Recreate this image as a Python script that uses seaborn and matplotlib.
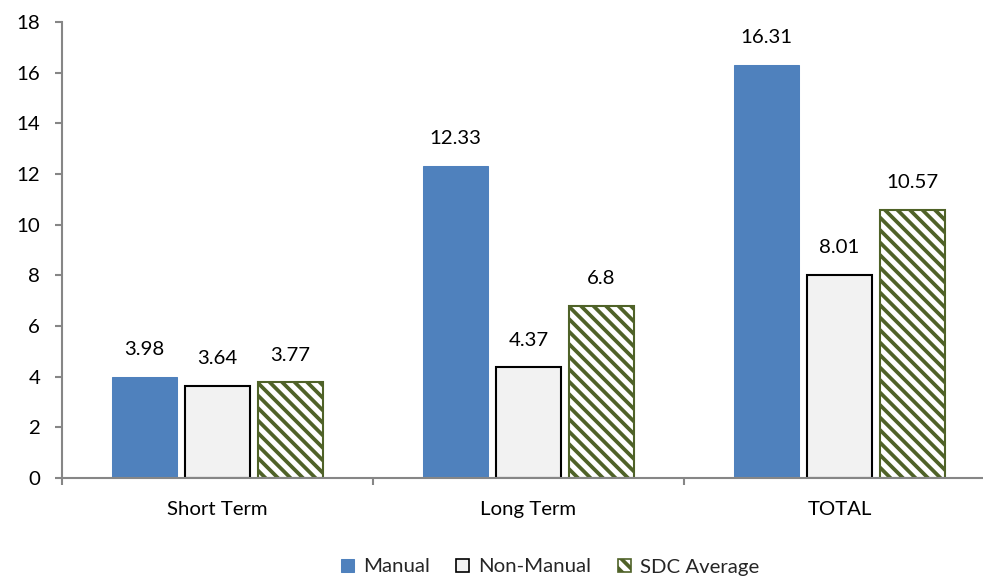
import matplotlib
matplotlib.use("Agg")
import matplotlib.pyplot as plt
from matplotlib.patches import Patch
import pandas as pd
import seaborn as sns

# Chart data
categories = ["Short Term", "Long Term", "TOTAL"]
series_names = ["Manual", "Non-Manual", "SDC Average"]
manual = [3.98, 12.33, 16.31]
non_manual = [3.64, 4.37, 8.01]
sdc_average = [3.77, 6.8, 10.57]
y_ticks = [0, 2, 4, 6, 8, 10, 12, 14, 16, 18]

sns.set_theme(style="white")
plt.rcParams["font.family"] = ["Lato", "DejaVu Sans"]
plt.rcParams["hatch.linewidth"] = 1.8

FS = 9.8
AXIS_GREY = "#868686"
BLUE = "#4F81BD"
LIGHT = "#F2F2F2"
GREEN = "#4F6228"
DIAG = chr(92) * 4  # dense backward-diagonal hatch

values = [manual, non_manual, sdc_average]
df = pd.DataFrame(
    [(c, s, v) for s, vals in zip(series_names, values) for c, v in zip(categories, vals)],
    columns=["category", "series", "value"],
)

fig = plt.figure(figsize=(983 / 150, 577 / 150), dpi=150)
ax = fig.add_axes([62 / 983, 1 - 478 / 577, 933 / 983, (478 - 22) / 577])

sns.barplot(
    data=df, x="category", y="value", hue="series",
    order=categories, hue_order=series_names,
    palette=[BLUE, LIGHT, "white"], width=0.704, gap=0.097,
    saturation=1, legend=False, ax=ax,
)

styles = {
    "Manual": dict(edgecolor=BLUE, linewidth=0.5, hatch=None),
    "Non-Manual": dict(edgecolor="black", linewidth=1.0, hatch=None),
    "SDC Average": dict(edgecolor=GREEN, linewidth=1.0, hatch=DIAG),
}

for name, container in zip(series_names, ax.containers):
    st = styles[name]
    for bar in container:
        bar.set_edgecolor(st["edgecolor"])
        bar.set_linewidth(st["linewidth"])
        if st["hatch"]:
            bar.set_hatch(st["hatch"])
    ax.bar_label(container, labels=[f"{v:g}" for v in container.datavalues],
                 padding=9, fontsize=FS, color="black")

ax.set_ylim(0, 18)
ax.set_xlim(-0.5, 2.5)
ax.set_yticks(y_ticks)
ax.set_yticklabels([str(t) for t in y_ticks], fontsize=FS)
ax.set_xticks(range(len(categories)))
ax.set_xticklabels(categories, fontsize=FS)
ax.set_xticks([-0.5, 0.5, 1.5, 2.5], minor=True)
ax.set_xlabel("")
ax.set_ylabel("")

for side in ["top", "right"]:
    ax.spines[side].set_visible(False)
for side in ["left", "bottom"]:
    ax.spines[side].set_color(AXIS_GREY)
    ax.spines[side].set_linewidth(1.0)

ax.tick_params(axis="y", which="major", length=3.5, width=1.0, color=AXIS_GREY,
               pad=7, direction="out", left=True, labelcolor="black")
ax.tick_params(axis="x", which="major", length=0, pad=11, labelcolor="black")
ax.tick_params(axis="x", which="minor", length=3.5, width=1.0, color=AXIS_GREY,
               direction="out", bottom=True)

handles = [
    Patch(facecolor=BLUE, edgecolor=BLUE, linewidth=0.5, label="Manual"),
    Patch(facecolor=LIGHT, edgecolor="black", linewidth=0.8, label="Non-Manual"),
    Patch(facecolor="white", edgecolor=GREEN, linewidth=0.8, hatch=DIAG, label="SDC Average"),
]
fig.legend(handles=handles, loc="center", bbox_to_anchor=(550 / 983, 1 - 567 / 577),
           ncol=3, frameon=False, fontsize=FS, handlelength=0.64, handleheight=0.64,
           handletextpad=0.44, columnspacing=1.3, borderaxespad=0, borderpad=0)

fig.savefig("out.png", dpi=150)
